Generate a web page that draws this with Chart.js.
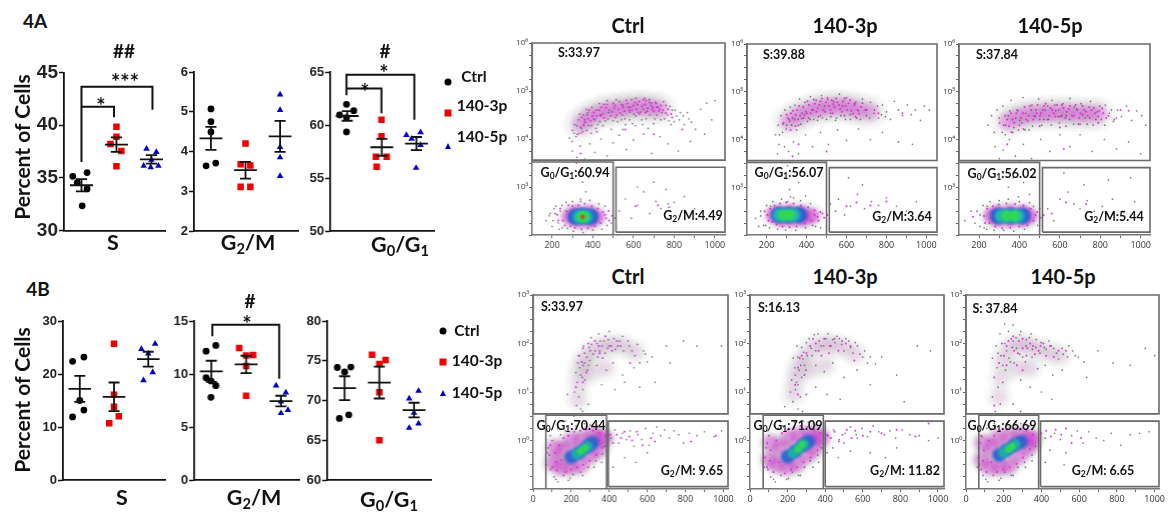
<!DOCTYPE html>
<html>
<head>
<meta charset="utf-8">
<title>Cell cycle</title>
<script src="https://cdn.jsdelivr.net/npm/chart.js@4"></script>
<style>
html, body { margin: 0; background: #fff; }
#page { position: relative; width: 1169px; height: 512px; overflow: hidden; }
canvas { position: absolute; }
canvas.flow { filter: blur(0.3px); }
.t { position: absolute; transform: translate(-50%, -50%); white-space: nowrap; font-family: Lato, sans-serif; font-weight: 700; color: #111; line-height: 1; }
.t sub { font-size: 0.68em; vertical-align: -0.25em; line-height: 0; }
.mark { position: absolute; transform: translate(-50%, -50%); }
</style>
</head>
<body>
<div id="page"></div>
<script>
// --- dot plots: [x, y, x, y ...] with groups centred on x = 1, 2, 3 ---
const aSCtrl = [0.75,35.15, 1.16,35.5, 0.88,34.55, 1.16,33.95, 1.02,32.35];
const aS3p = [2.0,39.85, 2.0,38.9, 1.83,38.2, 2.14,37.55, 2.0,36.1];
const aS5p = [2.86,37.75, 3.14,37.45, 3.0,36.7, 2.78,36.15, 2.98,36.0, 3.2,36.15];
const aSMean = [34.3, 38.15, 36.75];
const aSSem = [0.58, 0.68, 0.4];
const aSBrackets = [[1.0,36.5, 1.0,43.65, 3.03,43.65, 3.03,41.45], [1.0,41.75, 1.93,41.75, 1.93,40.75]];

const aGCtrl = [1.0,5.07, 1.0,4.75, 1.0,4.49, 0.86,3.64, 1.14,3.71];
const aG3p = [2.0,4.2, 1.86,3.68, 2.14,3.65, 1.86,3.11, 2.14,3.11];
const aG5p = [3.0,5.43, 3.0,5.04, 3.0,4.11, 3.0,3.85, 3.0,3.38];
const aGMean = [4.33, 3.53, 4.38];
const aGSem = [0.29, 0.21, 0.39];

const aG0Ctrl = [0.98,61.95, 1.19,61.35, 0.78,60.95, 0.98,60.7, 0.98,59.35];
const aG03p = [1.99,60.5, 1.99,58.95, 1.83,57.0, 2.14,57.0, 1.85,56.05];
const aG05p = [2.71,59.05, 3.12,59.3, 2.86,58.7, 3.12,58.1, 2.99,55.95];
const aG0Mean = [60.85, 57.9, 58.25];
const aG0Sem = [0.45, 0.8, 0.62];
const aG0Brackets = [[0.98,62.8, 0.98,64.75, 2.94,64.75, 2.94,60.5], [0.98,63.45, 1.99,63.45, 1.99,61.1]];

const bSCtrl = [1.12,23.2, 0.79,22.4, 1.0,15.0, 1.12,13.2, 0.79,11.9];
const bS3p = [2.0,25.7, 2.0,16.1, 2.0,13.8, 2.14,12.05, 1.86,10.7];
const bS5p = [2.8,24.7, 3.2,25.7, 3.0,23.85, 3.13,20.3, 2.86,18.8];
const bSMean = [17.2, 15.7, 22.8];
const bSSem = [2.45, 2.7, 1.4];

const bGCtrl = [1.13,12.7, 0.85,12.15, 0.85,9.65, 0.99,9.35, 1.13,8.9, 0.99,7.8];
const bG3p = [1.8,12.45, 2.0,11.75, 2.2,11.8, 2.0,10.75, 2.0,7.95];
const bG5p = [2.86,8.9, 3.14,8.25, 3.0,7.4, 3.2,6.6, 3.0,6.3];
const bGMean = [10.25, 10.9, 7.45];
const bGSem = [1.0, 0.82, 0.5];
const bGBrackets = [[1.03,13.55, 1.03,14.65, 2.95,14.65, 2.95,9.55]];

const bG0Ctrl = [0.79,74.15, 1.18,74.2, 1.0,73.6, 1.12,68.2, 0.85,67.75];
const bG03p = [1.79,75.75, 2.18,75.1, 2.0,74.6, 2.0,71.05, 2.0,65.0];
const bG05p = [3.13,71.2, 2.86,70.25, 3.0,68.45, 3.13,67.1, 2.86,66.55];
const bG0Mean = [71.55, 72.25, 68.8];
const bG0Sem = [1.5, 2.0, 0.92];

const yLabelPower = ['\u2070','\u00b9','\u00b2','\u00b3','\u2074','\u2075','\u2076'];

// --- flow plots: x is signal, y is log10 of signal ---
const topCtrlGrey = [285,4.02, 300,4.18, 310,4.3, 298,3.95, 318,4.05, 330,4.4, 345,4.22, 352,4.5, 362,4.35, 375,4.55, 380,4.28, 392,4.12, 405,4.42, 418,4.6, 425,4.3, 440,4.48, 455,4.72, 462,4.38, 478,4.55, 490,4.2, 505,4.65, 512,4.45, 530,4.78, 545,4.5, 560,4.3, 575,4.66, 590,4.82, 602,4.52, 620,4.72, 640,4.4, 655,4.85, 668,4.58, 690,4.75, 705,4.42, 722,4.66, 740,4.55, 760,4.7, 775,4.38, 790,4.6, 812,4.48, 830,4.55, 850,4.3, 872,4.42, 905,4.2, 930,4.62, 960,4.75, 985,4.4, 1000,4.8, 300,3.75, 322,3.62, 338,3.85, 360,3.58, 385,3.9, 410,3.72, 440,4.0, 470,3.65, 500,3.92, 530,4.08, 565,3.78, 600,3.98, 650,4.1, 690,3.7, 730,4.05, 770,3.9, 820,3.75, 880,3.95, 950,4.1, 330,3.3, 350,3.1, 365,2.9, 380,3.2, 340,2.75, 210,2.55, 185,2.4, 230,2.25, 170,2.3, 250,2.15, 240,2.5, 200,2.18, 460,2.6, 490,2.25, 300,2.7, 530,2.5, 560,2.75, 590,2.35, 620,2.62, 650,2.9, 680,2.45, 710,2.7, 735,2.55, 770,2.65, 800,2.68, 830,2.4, 850,2.8, 900,2.55, 700,3.1, 620,3.0, 760,2.95, 335,4.52, 368,4.62, 395,4.66, 432,4.74, 470,4.8, 515,4.82, 548,4.7, 582,4.56, 612,4.85, 648,4.62, 678,4.82, 712,4.74, 748,4.78, 780,4.68, 800,4.36, 548,4.2, 610,4.28, 672,4.22];
const topCtrlGrey2 = [190,2.45, 205,2.3, 218,2.6, 235,2.12, 248,2.62, 268,2.68, 275,2.14, 305,2.08, 340,2.7, 352,2.05, 385,2.72, 400,2.1, 430,2.65, 445,2.12, 470,2.2, 510,2.35, 308,4.12, 322,4.28, 338,4.12, 356,4.28, 370,4.18, 395,4.28, 415,4.22, 435,4.36, 450,4.28, 475,4.42, 500,4.38, 522,4.36, 540,4.4, 558,4.42, 580,4.4, 595,4.32, 612,4.48, 630,4.52, 645,4.3, 662,4.42, 680,4.5, 698,4.32, 715,4.5, 735,4.4, 752,4.42, 768,4.5, 785,4.3, 805,4.6, 825,4.4, 845,4.48, 865,4.55, 885,4.35];
const topCtrlPink = [340,4.25, 360,4.4, 372,4.5, 390,4.38, 405,4.55, 420,4.48, 432,4.6, 448,4.52, 465,4.65, 480,4.6, 495,4.56, 510,4.7, 525,4.62, 540,4.72, 555,4.58, 570,4.74, 585,4.66, 600,4.7, 615,4.62, 628,4.78, 640,4.68, 655,4.72, 670,4.64, 685,4.7, 700,4.58, 715,4.66, 735,4.7, 325,4.1, 345,4.45, 382,4.6, 350,4.15, 398,4.48, 442,4.66, 488,4.48, 535,4.54, 592,4.6, 635,4.56, 662,4.8, 692,4.62, 725,4.58, 320,3.5, 340,3.7, 420,4.15, 560,4.2, 700,4.1, 790,4.45, 840,4.2, 610,2.6, 720,2.62, 775,2.58, 215,2.45, 230,2.3, 460,2.42, 480,2.3];
const topCtrlPink2 = [225,2.42, 240,2.55, 252,2.3, 262,2.2, 270,2.5, 280,2.62, 290,2.18, 300,2.6, 312,2.15, 330,2.62, 345,2.12, 360,2.65, 375,2.14, 395,2.6, 410,2.18, 425,2.55, 438,2.25, 450,2.48, 465,2.35, 478,2.5, 495,2.4, 355,4.3, 378,4.42, 410,4.4, 436,4.5, 455,4.44, 470,4.72, 500,4.74, 518,4.5, 548,4.66, 565,4.8, 578,4.6, 608,4.76, 622,4.55, 648,4.82, 660,4.55, 678,4.76, 695,4.66, 708,4.76, 730,4.62, 745,4.6, 758,4.54, 770,4.62, 785,4.52];
const topCtrlHaze = [340,4.3, 380,4.45, 430,4.55, 480,4.6, 530,4.62, 580,4.66, 630,4.68, 680,4.66, 730,4.62];
const topCtrlHalo = [285,2.38, 320,2.46, 330,2.3, 380,2.46, 385,2.3, 420,2.38];
const topCtrlBlue = [315,2.38, 350,2.4, 388,2.38];
const topCtrlCyan = [335,2.38, 365,2.38];
const topCtrlGreen = [345,2.38, 358,2.38];
const topCtrlRed = [350,2.38];

const top3pGrey = [245,4.1, 258,4.3, 262,3.9, 272,4.5, 280,4.15, 292,4.62, 300,4.3, 310,3.75, 318,4.68, 330,4.45, 342,4.72, 350,4.2, 365,4.85, 378,4.55, 392,4.78, 405,4.38, 420,4.9, 432,4.62, 448,4.82, 460,4.48, 475,4.92, 490,4.7, 505,4.88, 520,4.55, 535,4.8, 550,4.45, 565,4.95, 580,4.7, 600,4.88, 620,4.42, 640,4.75, 660,4.6, 680,4.85, 700,4.5, 720,4.78, 740,4.62, 760,4.45, 780,4.72, 800,4.58, 820,4.42, 840,4.8, 860,4.62, 880,4.5, 905,4.72, 925,4.52, 945,4.62, 970,4.4, 990,4.7, 1015,4.62, 255,3.7, 275,3.55, 290,3.85, 305,3.45, 335,3.95, 360,3.7, 395,4.1, 430,3.85, 470,4.15, 510,3.9, 555,4.2, 600,3.98, 660,4.22, 720,4.0, 780,4.15, 860,3.95, 930,3.9, 290,3.2, 315,2.95, 335,2.78, 360,3.1, 395,2.82, 305,2.7, 145,2.35, 170,2.5, 195,2.2, 220,2.6, 160,2.18, 430,2.2, 470,2.15, 520,2.65, 545,2.5, 560,2.75, 590,2.42, 620,2.6, 655,2.85, 690,2.55, 725,2.7, 760,2.62, 800,2.78, 850,2.6, 900,2.5, 950,2.7, 610,3.2, 680,3.05];
const top3pGrey2 = [170,2.4, 185,2.2, 200,2.62, 215,2.15, 232,2.7, 255,2.12, 275,2.75, 295,2.1, 320,2.8, 345,2.1, 370,2.72, 395,2.15, 420,2.66, 445,2.18, 265,4.1, 282,4.32, 298,4.22, 312,4.42, 326,4.3, 345,4.28, 358,4.42, 372,4.32, 386,4.45, 402,4.55, 418,4.42, 436,4.42, 455,4.4, 480,4.45, 500,4.42, 522,4.48, 545,4.4, 572,4.5, 595,4.42, 618,4.52, 645,4.48, 670,4.42, 695,4.62, 715,4.45, 738,4.55, 755,4.7, 775,4.52, 795,4.48];
const top3pPink = [285,4.35, 305,4.45, 322,4.55, 340,4.42, 352,4.62, 368,4.5, 384,4.68, 398,4.58, 412,4.72, 428,4.62, 442,4.75, 456,4.66, 470,4.8, 484,4.62, 498,4.78, 512,4.7, 526,4.82, 540,4.68, 554,4.78, 568,4.64, 582,4.8, 596,4.7, 610,4.76, 624,4.6, 640,4.72, 655,4.62, 672,4.68, 320,4.2, 360,4.3, 410,4.45, 470,4.5, 530,4.55, 590,4.5, 650,4.45, 700,4.62, 760,4.55, 880,4.55, 330,3.65, 360,3.9, 500,3.75, 190,2.5, 210,2.3, 440,2.42, 460,2.3, 480,2.45, 600,2.6, 650,2.68, 720,2.62, 800,2.7];
const top3pPink2 = [205,2.42, 218,2.55, 228,2.28, 240,2.62, 250,2.22, 268,2.66, 280,2.18, 298,2.68, 315,2.16, 335,2.66, 350,2.18, 372,2.62, 392,2.24, 408,2.58, 425,2.3, 440,2.52, 455,2.38, 470,2.48, 488,2.36, 505,2.42, 300,4.52, 315,4.38, 332,4.6, 346,4.52, 362,4.7, 376,4.44, 390,4.52, 405,4.8, 420,4.55, 436,4.84, 450,4.58, 464,4.72, 478,4.86, 492,4.58, 506,4.84, 520,4.62, 534,4.74, 548,4.86, 562,4.72, 576,4.58, 590,4.86, 604,4.62, 618,4.82, 632,4.54, 646,4.78, 662,4.54, 680,4.76];
const top3pHaze = [310,4.38, 360,4.5, 410,4.6, 460,4.66, 510,4.68, 560,4.7, 610,4.68, 660,4.62, 720,4.58];
const top3pHalo = [235,2.42, 265,2.46, 275,2.34, 320,2.48, 325,2.34, 375,2.46, 380,2.34, 425,2.4];
const top3pBlue = [262,2.42, 310,2.42, 362,2.42];
const top3pCyan = [265,2.42, 300,2.42, 335,2.42];
const top3pGreen = [285,2.42, 318,2.42];

const top5pGrey = [245,4.3, 262,4.5, 275,4.15, 290,4.62, 302,4.35, 318,4.7, 330,4.1, 345,4.5, 358,4.82, 372,4.25, 388,4.62, 402,4.4, 418,4.88, 432,4.55, 448,4.2, 462,4.72, 478,4.48, 495,4.85, 510,4.3, 528,4.62, 545,4.42, 562,4.82, 580,4.6, 598,4.35, 615,4.75, 632,4.5, 650,4.86, 668,4.32, 685,4.62, 705,4.75, 725,4.45, 745,4.68, 765,4.3, 785,4.58, 805,4.42, 825,4.72, 845,4.55, 865,4.38, 885,4.62, 905,4.48, 930,4.7, 955,4.4, 980,4.6, 1005,4.5, 1025,4.3, 280,3.85, 300,3.6, 320,3.78, 350,4.0, 380,3.65, 420,3.9, 460,3.6, 505,4.0, 550,3.75, 600,4.1, 650,3.85, 700,4.1, 760,3.75, 820,4.0, 880,3.8, 940,3.95, 1000,3.7, 320,3.3, 345,3.0, 370,3.2, 395,2.8, 420,3.1, 450,2.85, 160,2.5, 180,2.25, 205,2.42, 225,2.15, 240,2.6, 130,2.3, 470,2.6, 490,2.2, 540,2.55, 570,2.3, 600,2.75, 640,2.9, 670,2.65, 700,2.55, 735,2.72, 770,2.5, 810,2.6, 860,2.75, 910,2.5, 970,2.7, 620,3.3, 720,3.05, 840,3.15, 950,3.2];
const top5pGrey2 = [190,2.5, 205,2.18, 220,2.62, 238,2.12, 255,2.7, 275,2.1, 300,2.72, 322,2.1, 345,2.75, 372,2.08, 400,2.7, 425,2.12, 450,2.68, 300,4.45, 315,4.15, 332,4.3, 352,4.6, 368,4.15, 382,4.45, 395,4.2, 412,4.35, 428,4.2, 445,4.5, 465,4.28, 482,4.62, 502,4.5, 520,4.42, 540,4.7, 558,4.3, 575,4.72, 592,4.48, 610,4.5, 630,4.28, 648,4.42, 672,4.68, 692,4.32, 712,4.52, 735,4.32, 752,4.8, 778,4.42, 798,4.7, 822,4.3, 855,4.62, 880,4.45];
const top5pPink = [322,4.3, 340,4.42, 358,4.55, 375,4.35, 392,4.6, 408,4.45, 425,4.68, 442,4.38, 458,4.62, 474,4.5, 490,4.72, 506,4.55, 522,4.7, 538,4.42, 554,4.66, 570,4.55, 586,4.72, 602,4.48, 618,4.66, 634,4.58, 650,4.7, 668,4.5, 684,4.64, 702,4.55, 720,4.62, 738,4.5, 756,4.62, 775,4.55, 795,4.6, 815,4.55, 840,4.5, 870,4.42, 900,4.62, 940,4.6, 360,4.15, 420,4.22, 500,4.28, 600,4.25, 700,4.32, 790,4.35, 340,3.9, 400,3.55, 620,3.8, 170,2.38, 230,2.25, 480,2.42, 500,2.55, 560,2.45, 630,2.68, 730,2.65];
const top5pPink2 = [225,2.4, 240,2.55, 252,2.25, 268,2.6, 280,2.18, 298,2.64, 315,2.14, 335,2.66, 355,2.15, 378,2.65, 398,2.18, 420,2.62, 440,2.2, 455,2.55, 470,2.3, 488,2.48, 505,2.36, 520,2.42, 330,4.5, 348,4.28, 366,4.42, 385,4.55, 400,4.3, 418,4.55, 435,4.42, 452,4.7, 468,4.42, 485,4.55, 500,4.42, 515,4.62, 530,4.75, 546,4.5, 562,4.62, 578,4.48, 595,4.62, 610,4.72, 628,4.45, 644,4.64, 660,4.5, 678,4.72, 695,4.45, 712,4.7, 730,4.58, 748,4.45, 768,4.66, 790,4.48, 810,4.65, 830,4.45];
const top5pHaze = [340,4.38, 390,4.46, 440,4.52, 490,4.54, 540,4.56, 590,4.56, 640,4.56, 690,4.54, 740,4.54, 790,4.54];
const top5pHalo = [262,2.4, 295,2.46, 295,2.33, 355,2.48, 355,2.32, 415,2.46, 415,2.33, 450,2.4];
const top5pBlue = [295,2.4, 355,2.4, 415,2.4];
const top5pCyan = [312,2.4, 350,2.4, 390,2.4];
const top5pGreen = [335,2.4, 375,2.4];

const botCtrlGrey = [215,0.5, 228,0.72, 240,0.9, 218,1.0, 250,0.65, 232,1.2, 262,1.05, 225,1.4, 250,1.35, 272,1.25, 235,1.6, 262,1.55, 285,1.45, 242,1.75, 270,1.8, 298,1.65, 265,1.95, 295,1.92, 315,1.78, 305,2.12, 335,2.0, 350,1.85, 345,2.2, 372,2.05, 392,1.9, 400,2.25, 425,2.1, 445,1.95, 470,2.15, 498,2.05, 520,1.85, 548,1.98, 580,1.85, 600,1.62, 625,1.72, 335,1.55, 385,1.45, 420,1.6, 470,1.35, 530,1.5, 360,1.15, 430,1.05, 480,1.2, 560,1.1, 700,1.95, 790,2.05, 860,1.95, 990,1.95, 720,1.6, 640,1.2, 180,0.95, 260,0.6, 290,0.75, 75,-0.25, 92,-0.6, 110,-0.75, 130,-0.85, 160,-0.72, 185,-0.82, 210,-0.7, 250,-0.65, 290,-0.55, 330,-0.42, 365,-0.28, 90,0.1, 130,0.25, 170,0.4, 410,0.05, 430,0.22, 450,-0.05, 470,0.15, 490,0.02, 510,0.2, 530,-0.12, 550,0.12, 570,0.02, 590,0.25, 610,-0.1, 630,0.15, 650,0.28, 670,0.1, 690,0.22, 715,0.05, 740,0.2, 765,0.12, 790,-0.05, 820,0.15, 860,0.1, 900,0.18, 950,0.08, 990,0.2, 480,-0.35, 540,-0.45, 600,-0.25, 420,-0.55, 390,-0.7];
const botCtrlGrey2 = [70,-0.5, 80,-0.15, 100,0.0, 120,-0.8, 145,0.12, 170,0.2, 195,-0.78, 225,0.3, 260,-0.72, 270,0.35, 300,0.32, 320,-0.55, 340,0.3, 360,-0.45, 375,-0.12, 245,1.5, 258,1.3, 270,1.6, 282,1.72, 292,1.55, 308,1.98, 325,1.85, 340,1.72, 352,2.05, 362,1.95, 378,1.8, 395,2.08, 410,1.95, 432,1.88, 455,2.05, 475,1.85, 505,1.95, 535,1.75, 560,1.6, 590,1.78];
const botCtrlPink = [255,1.62, 280,1.4, 300,1.85, 345,1.95, 365,1.7, 262,1.2, 225,1.1, 400,1.95, 440,2.05, 510,1.6, 385,0.1, 405,0.12, 420,-0.05, 440,0.12, 462,0.05, 480,0.18, 505,0.08, 520,0.0, 545,0.18, 575,-0.1, 620,0.05, 640,-0.02, 830,-0.02, 960,0.1];
const botCtrlPink2 = [85,-0.3, 100,-0.55, 115,-0.25, 125,-0.62, 138,-0.1, 150,-0.4, 160,0.05, 172,-0.65, 185,0.1, 200,-0.6, 215,0.18, 232,-0.55, 248,0.2, 262,-0.5, 280,0.22, 298,-0.42, 315,0.2, 332,-0.3, 350,0.15, 362,-0.15, 378,0.1, 120,-0.45, 90,-0.1, 345,0.0, 240,1.75, 262,1.9, 290,2.0, 325,2.05, 350,1.8, 380,2.15, 415,1.85, 460,1.95];
const botCtrlArc = [235,0.85, 240,1.2, 245,1.5, 275,1.7, 320,1.85, 370,1.95, 420,1.98, 480,1.95, 540,1.82, 300,1.4, 380,1.5];
const botCtrlHalo = [105,-0.45, 145,-0.55, 115,-0.15, 160,-0.2, 195,-0.55, 250,-0.5, 200,0.0, 255,0.02, 300,-0.3, 310,0.12, 350,0.05, 345,-0.18, 375,0.05];
const botCtrlBlue = [200,-0.34, 240,-0.25, 282,-0.13, 310,-0.05];
const botCtrlCyan = [228,-0.28, 262,-0.2, 285,-0.12];
const botCtrlGreen = [250,-0.22, 272,-0.15];

const bot3pGrey = [215,1.0, 228,0.8, 242,1.05, 255,0.65, 268,0.9, 222,1.25, 248,1.2, 275,1.3, 238,1.5, 262,1.45, 290,1.55, 230,1.7, 255,1.72, 282,1.68, 305,1.75, 250,1.95, 275,1.92, 300,2.02, 325,1.9, 342,2.18, 368,2.05, 392,1.95, 415,2.2, 440,2.08, 462,2.15, 488,1.98, 510,2.1, 535,1.92, 560,2.02, 585,1.78, 610,1.85, 640,1.72, 668,1.58, 350,1.55, 395,1.42, 440,1.6, 500,1.3, 570,1.45, 640,1.15, 350,1.1, 410,0.95, 480,0.85, 185,0.7, 160,0.55, 280,0.6, 700,1.72, 780,1.35, 890,1.95, 960,1.85, 820,0.8, 90,-0.55, 110,-0.75, 135,-0.85, 165,-0.72, 195,-0.8, 225,-0.65, 258,-0.72, 290,-0.55, 320,-0.42, 360,-0.3, 95,0.2, 130,0.3, 160,0.42, 410,-0.25, 440,-0.15, 470,-0.35, 500,-0.05, 535,-0.22, 570,0.05, 415,0.1, 445,0.22, 475,0.02, 505,0.15, 535,0.28, 565,0.12, 595,0.25, 625,0.08, 655,0.3, 685,0.18, 715,0.12, 745,0.2, 775,0.05, 810,0.22, 850,0.12, 900,0.1, 950,0.0, 1000,0.05, 640,-0.25, 720,-0.35, 780,-0.15];
const bot3pGrey2 = [75,-0.55, 85,-0.15, 100,0.1, 125,-0.8, 150,0.25, 175,0.3, 205,-0.78, 235,0.38, 268,-0.72, 285,0.4, 310,0.38, 335,-0.55, 350,0.32, 365,-0.45, 380,-0.15, 240,1.35, 255,1.15, 270,1.55, 285,1.82, 298,1.45, 315,2.1, 330,1.75, 350,1.85, 362,2.2, 378,1.95, 405,2.1, 425,1.95, 452,2.02, 475,2.1, 500,1.85, 525,2.05, 548,1.8, 572,1.95, 600,1.72, 625,1.6];
const bot3pPink = [265,1.7, 290,1.35, 240,1.15, 320,1.95, 350,2.0, 380,1.75, 430,1.95, 470,1.85, 510,2.0, 555,1.65, 300,0.95, 255,0.95, 410,0.12, 430,0.05, 450,0.18, 472,-0.02, 492,0.12, 515,0.22, 540,0.05, 560,0.2, 600,0.1, 640,0.18, 700,0.15, 780,0.22, 880,0.08, 950,0.35];
const bot3pPink2 = [80,-0.35, 95,-0.6, 110,-0.2, 125,-0.65, 140,0.0, 155,-0.45, 170,0.15, 185,-0.68, 200,0.22, 218,-0.6, 235,0.28, 250,-0.55, 268,0.3, 285,-0.45, 305,0.28, 322,-0.35, 340,0.22, 358,-0.2, 375,0.15, 105,-0.42, 92,-0.05, 350,0.02, 255,1.5, 275,1.75, 300,1.8, 335,2.1, 365,1.85, 395,2.1, 420,1.8, 450,2.1, 490,2.05, 535,1.95];
const bot3pArc = [230,0.95, 240,1.25, 255,1.5, 285,1.72, 335,1.92, 390,1.98, 440,1.98, 500,1.92, 560,1.78, 320,1.45, 400,1.55];
const bot3pHalo = [105,-0.4, 145,-0.5, 110,-0.05, 165,-0.15, 200,-0.55, 250,-0.48, 205,0.05, 260,0.1, 305,-0.3, 315,0.12, 355,0.08, 345,-0.15, 380,0.05];
const bot3pBlue = [200,-0.33, 240,-0.22, 282,-0.1, 310,-0.02];
const bot3pCyan = [228,-0.26, 262,-0.15, 285,-0.08];
const bot3pGreen = [255,-0.18, 278,-0.08];

const bot5pGrey = [140,0.9, 155,0.6, 170,1.1, 182,0.75, 150,1.3, 195,1.2, 165,1.5, 210,1.45, 140,1.7, 185,1.75, 228,1.7, 160,1.95, 205,2.0, 245,1.92, 180,2.2, 225,2.25, 265,2.12, 205,2.4, 250,2.38, 290,2.25, 320,2.08, 345,2.2, 370,1.92, 398,2.02, 425,1.88, 452,1.95, 480,1.8, 510,1.9, 538,1.72, 565,1.85, 595,1.72, 625,1.62, 255,1.6, 285,1.78, 315,1.62, 350,1.72, 380,1.48, 420,1.55, 460,1.35, 510,1.45, 290,1.25, 340,1.1, 400,1.0, 455,0.85, 250,0.75, 290,0.6, 640,1.3, 700,1.85, 780,1.6, 870,1.55, 950,1.9, 1000,1.75, 70,-0.5, 90,-0.72, 115,-0.85, 145,-0.72, 175,-0.82, 205,-0.65, 240,-0.72, 275,-0.55, 310,-0.45, 350,-0.3, 80,0.1, 110,0.25, 150,0.35, 395,-0.12, 420,0.05, 445,-0.2, 470,0.15, 500,0.02, 530,-0.25, 560,0.1, 590,0.2, 620,-0.05, 650,0.18, 690,0.05, 730,0.0, 770,0.15, 820,-0.1, 870,0.12, 920,0.15, 970,0.18, 420,-0.45, 520,-0.5];
const bot5pGrey2 = [60,-0.55, 68,-0.15, 85,0.08, 105,-0.8, 130,0.22, 155,0.28, 185,-0.78, 215,0.35, 250,-0.72, 265,0.38, 290,0.35, 315,-0.55, 335,0.3, 350,-0.42, 368,-0.12, 170,1.8, 195,1.55, 215,1.85, 235,1.62, 250,2.05, 268,1.9, 285,2.18, 300,1.72, 318,1.95, 335,2.12, 352,1.88, 372,2.08, 392,1.8, 415,1.92, 440,2.05, 465,1.9, 490,1.68, 515,1.78, 545,1.95, 580,1.75];
const bot5pPink = [175,1.6, 200,1.75, 215,1.95, 240,2.1, 255,1.85, 280,2.05, 300,1.9, 320,1.75, 340,2.0, 365,1.78, 395,1.95, 425,1.75, 465,1.72, 490,1.85, 530,1.85, 215,1.55, 270,1.55, 300,1.45, 150,0.72, 180,0.55, 400,0.15, 425,0.2, 450,0.08, 475,0.22, 505,0.12, 530,0.25, 560,-0.05, 610,0.05];
const bot5pPink2 = [65,-0.35, 80,-0.6, 95,-0.2, 108,-0.65, 120,0.0, 135,-0.45, 150,0.1, 165,-0.65, 180,0.2, 198,-0.6, 215,0.22, 232,-0.55, 250,0.25, 268,-0.48, 285,0.22, 302,-0.35, 320,0.2, 338,-0.18, 355,0.12, 90,-0.42, 75,-0.05, 330,0.0, 190,2.0, 225,2.05, 250,2.15, 275,1.8, 300,2.1, 325,1.9, 355,1.95, 385,1.85, 410,2.0, 445,1.95];
const bot5pArc = [175,0.9, 185,1.3, 190,1.65, 230,1.9, 280,2.0, 330,1.95, 380,1.9, 440,1.8, 500,1.75, 270,1.5, 340,1.5];
const bot5pHalo = [85,-0.4, 125,-0.55, 90,-0.05, 140,-0.15, 180,-0.55, 230,-0.52, 170,0.05, 230,0.08, 280,-0.32, 285,0.1, 335,0.05, 330,-0.15, 355,0.02];
const bot5pBlue = [175,-0.3, 215,-0.2, 255,-0.1, 290,-0.03];
const bot5pCyan = [198,-0.25, 232,-0.16, 262,-0.08];
const bot5pGreen = [225,-0.18, 245,-0.12];

const page = document.getElementById('page');
let chartNumber = 0;

function addCanvas(left, top, width, height, cls) {
    const canvas = document.createElement('canvas');
    canvas.id = 'chart' + (++chartNumber);
    canvas.width = width;
    canvas.height = height;
    canvas.style.left = left + 'px';
    canvas.style.top = top + 'px';
    canvas.style.width = width + 'px';
    canvas.style.height = height + 'px';
    if (cls) canvas.className = cls;
    page.appendChild(canvas);
    return canvas;
}

function addText(html, x, y, size, extra) {
    const el = document.createElement('div');
    el.className = 't';
    el.innerHTML = html;
    el.style.left = x + 'px';
    el.style.top = y + 'px';
    el.style.fontSize = size + 'px';
    if (extra) el.style.cssText += extra;
    page.appendChild(el);
}

function pairs(flat) {
    const out = [];
    for (let i = 0; i < flat.length; i += 2) out.push({x: flat[i], y: flat[i + 1]});
    return out;
}

// soft round point image, used for the dense areas of the flow plots
function softDot(r, g, b, radius, alpha, solidTo) {
    const c = document.createElement('canvas');
    c.width = c.height = radius * 2;
    const ctx = c.getContext('2d');
    const grad = ctx.createRadialGradient(radius, radius, 0, radius, radius, radius);
    grad.addColorStop(0, `rgba(${r},${g},${b},${alpha})`);
    grad.addColorStop(solidTo, `rgba(${r},${g},${b},${alpha})`);
    grad.addColorStop(1, `rgba(${r},${g},${b},0)`);
    ctx.fillStyle = grad;
    ctx.fillRect(0, 0, radius * 2, radius * 2);
    return c;
}

const dotRed = softDot(200, 80, 44, 3, 1, 0.5);
const dotGreen = softDot(47, 215, 84, 7, 1, 0.5);
const dotCyan = softDot(34, 180, 180, 9, 1, 0.5);
const dotBlue = softDot(44, 98, 210, 10, 1, 0.6);
const dotGreenLow = softDot(47, 215, 84, 5, 1, 0.4);
const dotCyanLow = softDot(34, 170, 170, 7, 1, 0.5);
const dotBlueLow = softDot(44, 98, 210, 9, 0.95, 0.5);
const dotHalo = softDot(214, 40, 214, 10, 0.5, 0.45);
const dotHaloLow = softDot(214, 40, 214, 11, 0.38, 0.4);
const dotHaloGrey = softDot(120, 110, 120, 15, 0.2, 0.4);
const dotHazePink = softDot(214, 50, 214, 12, 0.3, 0.3);
const dotHazeGrey = softDot(110, 100, 110, 20, 0.15, 0.35);
const dotArcPink = softDot(214, 60, 214, 10, 0.1, 0.3);
const dotArcGrey = softDot(110, 110, 110, 16, 0.12, 0.35);

// mean line, error bar and caps for the three groups, in one broken line
function meanLines(means, sems) {
    const out = [];
    means.forEach((m, i) => {
        const c = i + 1;
        out.push({x: c - 0.33, y: m}, {x: c + 0.33, y: m}, {x: c, y: null});
        out.push({x: c, y: m - sems[i]}, {x: c, y: m + sems[i]}, {x: c, y: null});
        out.push({x: c - 0.16, y: m + sems[i]}, {x: c + 0.16, y: m + sems[i]}, {x: c, y: null});
        out.push({x: c - 0.16, y: m - sems[i]}, {x: c + 0.16, y: m - sems[i]}, {x: c, y: null});
    });
    return out;
}

function dotPlot(p) {
    const labelW = 34, padV = 12, padR = 2;
    const canvas = addCanvas(p.left - labelW, p.top - padV, p.right - p.left + labelW + padR, p.bottom - p.top + 2 * padV);
    const lineSet = (data, width) => ({data: data, showLine: true, spanGaps: false, borderColor: '#111', borderWidth: width, pointRadius: 0, clip: false});
    const datasets = [lineSet(meanLines(p.means, p.sems), 1.8)];
    (p.brackets || []).forEach(b => datasets.push(lineSet(pairs(b), 2)));
    datasets.push({data: pairs(p.ctrl), pointStyle: 'circle', pointRadius: 3.4, pointBackgroundColor: '#000', pointBorderWidth: 0});
    datasets.push({data: pairs(p.p3), pointStyle: 'rect', pointRadius: 4.6, pointBackgroundColor: '#f00000', pointBorderWidth: 0});
    datasets.push({data: pairs(p.p5), pointStyle: 'triangle', pointRadius: 3.8, pointBackgroundColor: '#0000c8', pointBorderWidth: 0});
    return new Chart(canvas, {
        type: 'scatter',
        data: {datasets: datasets},
        options: {
            responsive: false,
            animation: false,
            layout: {padding: {top: padV, bottom: padV, right: padR, left: 0}},
            plugins: {legend: {display: false}, tooltip: {enabled: false}},
            scales: {
                x: {
                    min: p.xMin, max: p.xMax,
                    grid: {display: false},
                    ticks: {display: false},
                    border: {color: '#111', width: 1.8},
                    afterFit: s => { s.height = 0; }
                },
                y: {
                    min: p.yMin, max: p.yMax,
                    grid: {drawOnChartArea: false, tickLength: 5, tickColor: '#111', tickWidth: 1.5},
                    border: {color: '#111', width: 1.8},
                    ticks: {stepSize: p.step, padding: 1, color: '#222', font: {family: 'Liberation Sans', weight: 'bold', size: p.tickSize || 13}},
                    afterFit: s => { s.width = labelW; }
                }
            }
        }
    });
}

function flowPlot(p) {
    const labelW = 26, padT = 6, padB = 18, padR = 10;
    const canvas = addCanvas(p.left - labelW, p.top - padT, p.right - p.left + labelW + padR, p.bottom - p.top + padT + padB, 'flow');
    const gate = flat => ({data: pairs(flat), showLine: true, borderColor: '#6a6a6a', borderWidth: 1.6, pointRadius: 0, clip: false});
    const image = (flat, img) => ({data: pairs(flat), pointStyle: img, pointRadius: 5, pointBorderWidth: 0});
    const speck = (flat, radius, color) => ({data: pairs(flat), pointRadius: radius, pointBackgroundColor: color, pointBorderWidth: 0});
    const low = p.arc != null; // lower row has the smaller, tilted core
    const datasets = p.gates.map(gate);
    if (p.red) datasets.push(image(p.red, dotRed));
    datasets.push(image(p.green, low ? dotGreenLow : dotGreen));
    datasets.push(image(p.cyan, low ? dotCyanLow : dotCyan));
    datasets.push(image(p.blue, low ? dotBlueLow : dotBlue));
    datasets.push(speck(p.pink, 1, 'rgba(228,30,222,0.9)'));
    datasets.push(speck(p.pink2, 1, 'rgba(228,30,222,0.9)'));
    datasets.push(speck(p.grey, 0.85, 'rgba(70,70,70,0.7)'));
    datasets.push(speck(p.grey2, 0.85, 'rgba(70,70,70,0.7)'));
    datasets.push(image(p.halo, low ? dotHaloLow : dotHalo));
    datasets.push(image(p.halo, dotHaloGrey));
    if (p.haze) {
        datasets.push(image(p.haze, dotHazePink));
        datasets.push(image(p.haze, dotHazeGrey));
    }
    if (p.arc) {
        datasets.push(image(p.arc, dotArcPink));
        datasets.push(image(p.arc, dotArcGrey));
    }
    return new Chart(canvas, {
        type: 'scatter',
        data: {datasets: datasets},
        options: {
            responsive: false,
            animation: false,
            layout: {padding: {top: padT, bottom: 0, right: padR, left: 0}},
            plugins: {legend: {display: false}, tooltip: {enabled: false}},
            scales: {
                x: {
                    min: p.xMin, max: p.xMax,
                    grid: {drawOnChartArea: false, tickLength: 3, tickColor: '#666', tickWidth: 1},
                    border: {color: '#777', width: 1.5},
                    ticks: {
                        stepSize: 100, includeBounds: false, autoSkip: false, maxRotation: 0, padding: 2,
                        color: '#333', font: {family: 'Open Sans', size: 9},
                        callback: v => (v % 200 === 0 ? String(v) : '')
                    },
                    afterFit: s => { s.height = padB; }
                },
                y: {
                    min: p.yMin, max: p.yMax,
                    grid: {drawOnChartArea: false, tickLength: 3, tickColor: '#666', tickWidth: 1},
                    border: {color: '#777', width: 1.5},
                    ticks: {
                        stepSize: 0.25, includeBounds: false, autoSkip: false, padding: 1,
                        color: '#333', font: {family: 'Open Sans', size: 8},
                        callback: v => (Number.isInteger(v) && v > p.yMin ? '10' + yLabelPower[v] : '')
                    },
                    afterFit: s => { s.width = labelW; }
                }
            }
        }
    });
}

function legendMark(kind, x, y) {
    const el = document.createElement('div');
    el.className = 'mark';
    el.style.left = x + 'px';
    el.style.top = y + 'px';
    if (kind === 'circle') el.style.cssText += 'width:7px;height:7px;border-radius:50%;background:#000;';
    if (kind === 'rect') el.style.cssText += 'width:7px;height:7px;background:#f00000;';
    if (kind === 'triangle') el.style.cssText += 'width:0;height:0;border-left:3.5px solid transparent;border-right:3.5px solid transparent;border-bottom:6px solid #0000c8;';
    page.appendChild(el);
}

// --- 4A ---
dotPlot({left: 64, right: 168, top: 71.7, bottom: 230.7, xMin: 0.5, xMax: 3.4, yMin: 30, yMax: 45, step: 5, tickSize: 19,
    ctrl: aSCtrl, p3: aS3p, p5: aS5p, means: aSMean, sems: aSSem, brackets: aSBrackets});
dotPlot({left: 194.3, right: 301.5, top: 71.7, bottom: 230.7, xMin: 0.51, xMax: 3.53, yMin: 2, yMax: 6, step: 1,
    ctrl: aGCtrl, p3: aG3p, p5: aG5p, means: aGMean, sems: aGSem});
dotPlot({left: 330, right: 436.7, top: 71.7, bottom: 230.7, xMin: 0.51, xMax: 3.52, yMin: 50, yMax: 65, step: 5,
    ctrl: aG0Ctrl, p3: aG03p, p5: aG05p, means: aG0Mean, sems: aG0Sem, brackets: aG0Brackets});

// --- 4B ---
dotPlot({left: 62.7, right: 168, top: 320.7, bottom: 480, xMin: 0.51, xMax: 3.5, yMin: 0, yMax: 30, step: 10,
    ctrl: bSCtrl, p3: bS3p, p5: bS5p, means: bSMean, sems: bSSem});
dotPlot({left: 194.3, right: 301.7, top: 320.7, bottom: 480, xMin: 0.51, xMax: 3.53, yMin: 0, yMax: 15, step: 5,
    ctrl: bGCtrl, p3: bG3p, p5: bG5p, means: bGMean, sems: bGSem, brackets: bGBrackets});
dotPlot({left: 327.3, right: 434, top: 320.7, bottom: 480, xMin: 0.5, xMax: 3.5, yMin: 60, yMax: 80, step: 5,
    ctrl: bG0Ctrl, p3: bG03p, p5: bG05p, means: bG0Mean, sems: bG0Sem});

// gate outlines use each plot's own data range
function topGates(xMin, xMax) {
    return [
        [xMin,6, xMax,6, xMax,3.56, xMin,3.56, xMin,6],
        [xMin,3.52, 500,3.52, 500,2.0],
        [514,2.06, 514,3.41, xMax,3.41, xMax,2.06, 514,2.06]
    ];
}
function botGates(xMin, xMax, g1Left, g1Right, g2Left) {
    return [
        [xMin,3, xMax,3, xMax,0.55, xMin,0.55, xMin,3],
        [g1Left,-1, g1Left,0.52, g1Right,0.52, g1Right,-1],
        [g2Left,-0.95, g2Left,0.4, xMax,0.4, xMax,-0.95, g2Left,-0.95]
    ];
}

flowPlot({left: 532.3, right: 725, top: 43, bottom: 235, xMin: 101.5, xMax: 1050, yMin: 2, yMax: 6, gates: topGates(101.5, 1050),
    grey: topCtrlGrey, grey2: topCtrlGrey2, pink: topCtrlPink, pink2: topCtrlPink2, haze: topCtrlHaze, halo: topCtrlHalo, blue: topCtrlBlue, cyan: topCtrlCyan, green: topCtrlGreen, red: topCtrlRed});
flowPlot({left: 746.7, right: 937, top: 44, bottom: 235, xMin: 102, xMax: 1053, yMin: 2, yMax: 6, gates: topGates(102, 1053),
    grey: top3pGrey, grey2: top3pGrey2, pink: top3pPink, pink2: top3pPink2, haze: top3pHaze, halo: top3pHalo, blue: top3pBlue, cyan: top3pCyan, green: top3pGreen});
flowPlot({left: 959, right: 1150.3, top: 44, bottom: 235, xMin: 101, xMax: 1046, yMin: 2, yMax: 6, gates: topGates(101, 1046),
    grey: top5pGrey, grey2: top5pGrey2, pink: top5pPink, pink2: top5pPink2, haze: top5pHaze, halo: top5pHalo, blue: top5pBlue, cyan: top5pCyan, green: top5pGreen});
flowPlot({left: 533.3, right: 728, top: 294.5, bottom: 488.5, xMin: 0, xMax: 1024, yMin: -1, yMax: 3, gates: botGates(0, 1024, 67, 386, 395),
    grey: botCtrlGrey, grey2: botCtrlGrey2, pink: botCtrlPink, pink2: botCtrlPink2, arc: botCtrlArc, halo: botCtrlHalo, blue: botCtrlBlue, cyan: botCtrlCyan, green: botCtrlGreen});
flowPlot({left: 750, right: 944, top: 294.5, bottom: 488.5, xMin: 0, xMax: 1032, yMin: -1, yMax: 3, gates: botGates(0, 1032, 70, 390, 400),
    grey: bot3pGrey, grey2: bot3pGrey2, pink: bot3pPink, pink2: bot3pPink2, arc: bot3pArc, halo: bot3pHalo, blue: bot3pBlue, cyan: bot3pCyan, green: bot3pGreen});
flowPlot({left: 966, right: 1159.3, top: 294.5, bottom: 488.5, xMin: 0, xMax: 1023, yMin: -1, yMax: 3, gates: botGates(0, 1023, 68, 385, 395),
    grey: bot5pGrey, grey2: bot5pGrey2, pink: bot5pPink, pink2: bot5pPink2, arc: bot5pArc, halo: bot5pHalo, blue: bot5pBlue, cyan: bot5pCyan, green: bot5pGreen});

// --- text over the plots ---
const G2 = 'G<sub>2</sub>/M';
const G0 = 'G<sub>0</sub>/G<sub>1</sub>';
addText('4A', 35, 20, 19);
addText('4B', 38, 288, 19);
addText('Percent of Cells', 21, 147, 21, 'transform:translate(-50%,-50%) rotate(-90deg);');
addText('Percent of Cells', 21, 400, 21, 'transform:translate(-50%,-50%) rotate(-90deg);');
addText('##', 124, 50, 19);
addText('#', 385, 50, 19);
addText('#', 250, 300, 19);
addText('***', 125, 82, 22);
addText('*', 101, 106, 22);
addText('*', 384, 73, 22);
addText('*', 365, 92, 22);
addText('*', 247, 324, 22);
addText('S', 113, 243, 21.5);
addText(G2, 248, 243, 21.5);
addText(G0, 400, 245, 21.5);
addText('S', 122, 498, 21.5);
addText(G2, 254, 498, 21.5);
addText(G0, 389, 500, 21.5);

legendMark('circle', 448, 82);
legendMark('rect', 448, 113);
legendMark('triangle', 448, 146);
addText('Ctrl', 474, 77, 15.5);
addText('140-3p', 482, 106, 15.5);
addText('140-5p', 482, 137, 15.5);
legendMark('circle', 443, 331);
legendMark('rect', 443, 362);
legendMark('triangle', 443, 393);
addText('Ctrl', 467, 331, 15.5);
addText('140-3p', 477, 361, 15.5);
addText('140-5p', 477, 393, 15.5);

addText('Ctrl', 628, 25, 20);
addText('140-3p', 845, 25, 20);
addText('140-5p', 1050, 25, 20);
addText('Ctrl', 628, 276, 20);
addText('140-3p', 845, 276, 20);
addText('140-5p', 1063, 276, 20);

addText('S:33.97', 579, 53, 12.5);
addText(G0 + ':60.94', 575, 173, 12.5);
addText(G2 + ':4.49', 693, 216, 12.5);
addText('S:39.88', 784, 55, 12.5);
addText(G0 + ':56.07', 789, 173, 12.5);
addText(G2 + ':3.64', 902, 217, 12.5);
addText('S:37.84', 997, 55, 12.5);
addText(G0 + ':56.02', 1002, 174, 12.5);
addText(G2 + ':5.44', 1114, 217, 12.5);
addText('S:33.97', 562, 307, 12.5);
addText(G0 + ':70.44', 571, 426, 12.5);
addText(G2 + ': 9.65', 692, 471, 12.5);
addText('S:16.13', 779, 308, 12.5);
addText(G0 + ':71.09', 788, 426, 12.5);
addText(G2 + ': 11.82', 905, 471, 12.5);
addText('S: 37.84', 995, 309, 12.5);
addText(G0 + ':66.69', 1002, 426, 12.5);
addText(G2 + ': 6.65', 1103, 471, 12.5);
</script>
</body>
</html>
